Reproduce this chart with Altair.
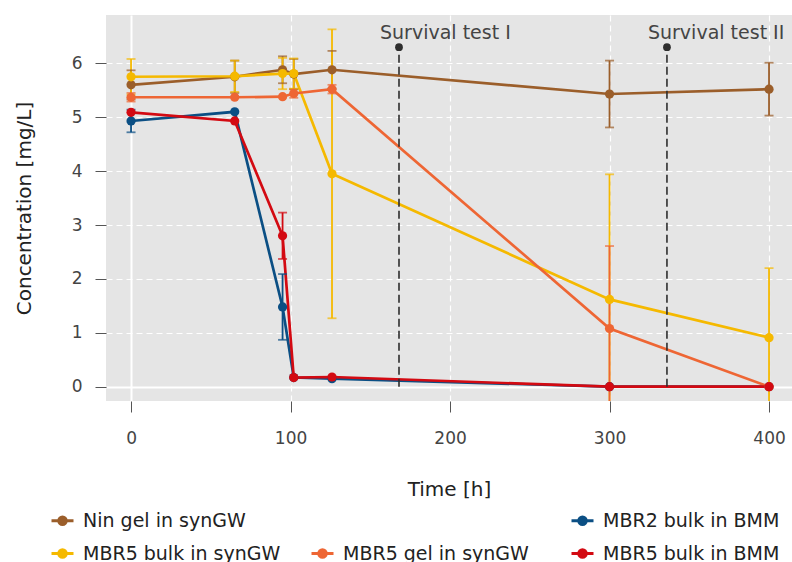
import altair as alt
import pandas as pd

# Sampling times [h]
hours = [0, 65, 95, 102, 126, 300, 400]

# Series in drawing order (later ones are drawn on top)
series_names = [
    "Nin gel in synGW",
    "MBR2 bulk in BMM",
    "MBR5 bulk in synGW",
    "MBR5 gel in synGW",
    "MBR5 bulk in BMM",
]

# Mean concentrations [mg/L]
nin_gel_syngw = [5.60, 5.75, 5.88, 5.80, 5.88, 5.43, 5.52]
mbr2_bulk_bmm = [4.93, 5.10, 1.48, 0.17, 0.15, 0.00, 0.00]
mbr5_bulk_syngw = [5.75, 5.76, 5.81, 5.81, 3.95, 1.62, 0.91]
mbr5_gel_syngw = [5.37, 5.37, 5.38, 5.44, 5.52, 1.08, 0.00]
mbr5_bulk_bmm = [5.09, 4.93, 2.80, 0.17, 0.18, 0.00, 0.00]

# Standard deviations [mg/L]
nin_gel_syngw_sd = [0.27, 0.30, 0.25, 0.28, 0.35, 0.62, 0.49]
mbr2_bulk_bmm_sd = [0.21, 0.00, 0.61, 0.00, 0.00, 0.00, 0.00]
mbr5_bulk_syngw_sd = [0.33, 0.29, 0.29, 0.28, 2.68, 2.32, 1.29]
mbr5_gel_syngw_sd = [0.08, 0.00, 0.00, 0.08, 0.08, 1.53, 0.00]
mbr5_bulk_bmm_sd = [0.00, 0.00, 0.43, 0.00, 0.00, 0.00, 0.00]

means = [nin_gel_syngw, mbr2_bulk_bmm, mbr5_bulk_syngw, mbr5_gel_syngw, mbr5_bulk_bmm]
sds = [nin_gel_syngw_sd, mbr2_bulk_bmm_sd, mbr5_bulk_syngw_sd, mbr5_gel_syngw_sd, mbr5_bulk_bmm_sd]

# Legend layout (row-major, three columns; the blank keeps the first row's middle slot empty)
legend_order = [
    "Nin gel in synGW", " ", "MBR2 bulk in BMM",
    "MBR5 bulk in synGW", "MBR5 gel in synGW", "MBR5 bulk in BMM",
]
legend_colors = [
    "#9B5E2A", "transparent", "#0B4F84",
    "#F5B900", "#EE6634", "#D30A12",
]

# Survival tests
survival_hours = [168, 336]
survival_labels = ["Survival test I", "Survival test II"]
survival_marker_level = 6.3

rows = []
for name, m, s in zip(series_names, means, sds):
    for h, v, e in zip(hours, m, s):
        rows.append({"series": name, "hour": h, "conc": v, "sd": e,
                     "lo": v - e, "hi": v + e})
df = pd.DataFrame(rows)

surv = pd.DataFrame({
    "hour": survival_hours,
    "label": survival_labels,
    "base": [0.0] * len(survival_hours),
    "top": [survival_marker_level] * len(survival_hours),
})

FONT = "DejaVu Sans"
X_DOMAIN = [-15.7, 414.4]
Y_DOMAIN = [-0.265, 6.896]

grid_dash = {"condition": {"test": "datum.value === 0", "value": []}, "value": [6, 4]}
grid_width = {"condition": {"test": "datum.value === 0", "value": 2}, "value": 1.2}

x_enc = alt.X(
    "hour:Q",
    scale=alt.Scale(domain=X_DOMAIN, nice=False, zero=False),
    axis=alt.Axis(
        values=[0, 100, 200, 300, 400], title="Time [h]",
        grid=True, gridColor="white", gridDash=grid_dash, gridWidth=grid_width,
        domain=False, ticks=True, tickSize=11, tickColor="#555555", tickWidth=1,
        labelFont=FONT, labelFontSize=17, labelColor="#444444", labelPadding=18,
        titleFont=FONT, titleFontSize=20, titleFontWeight="normal", titleColor="#222222",
        titleY=94, titleBaseline="alphabetic",
    ),
)
y_enc = alt.Y(
    "conc:Q",
    scale=alt.Scale(domain=Y_DOMAIN, nice=False, zero=False),
    axis=alt.Axis(
        values=[0, 1, 2, 3, 4, 5, 6], title="Concentration [mg/L]",
        grid=True, gridColor="white", gridDash=grid_dash, gridWidth=grid_width,
        domain=False, ticks=True, tickSize=11, tickColor="#555555", tickWidth=1,
        labelFont=FONT, labelFontSize=17, labelColor="#444444", labelPadding=13,
        titleFont=FONT, titleFontSize=20, titleFontWeight="normal", titleColor="#222222",
        titleX=-76, titleBaseline="alphabetic",
    ),
)

# Line-with-dot legend glyph: a stroke plus concentric rings that read as a solid dot
legend_symbol = (
    "M-1,0L1,0"
    "M0.34,0A0.34,0.34,0,1,1,-0.34,0A0.34,0.34,0,1,1,0.34,0"
    "M0.2,0A0.2,0.2,0,1,1,-0.2,0A0.2,0.2,0,1,1,0.2,0"
    "M0.07,0A0.07,0.07,0,1,1,-0.07,0A0.07,0.07,0,1,1,0.07,0"
)

color_scale = alt.Scale(domain=legend_order, range=legend_colors)
legend_def = alt.Legend(
    title=None, orient="none", legendX=-56, legendY=493,
    direction="horizontal", columns=3, gridAlign="all",
    columnPadding=24, rowPadding=10, padding=0,
    symbolType=legend_symbol, symbolSize=484, symbolStrokeWidth=3,
    labelFont=FONT, labelFontSize=19, labelColor="#222222",
    labelOffset=8, labelLimit=400,
)
no_legend = alt.Color("series:N", scale=color_scale, legend=None)

base = alt.Chart(df)

err = base.transform_filter("datum.sd > 0")
err_rules = err.mark_rule(strokeWidth=1.8, clip=True).encode(
    x=x_enc, y=alt.Y("lo:Q", scale=alt.Scale(domain=Y_DOMAIN, nice=False, zero=False)),
    y2="hi:Q", color=no_legend,
)
err_hi = err.mark_tick(orient="horizontal", size=9, thickness=1.8, clip=True).encode(
    x="hour:Q", y="hi:Q", color=no_legend,
)
err_lo = err.mark_tick(orient="horizontal", size=9, thickness=1.8, clip=True).encode(
    x="hour:Q", y="lo:Q", color=no_legend,
)

lines = base.mark_line(strokeWidth=2.7).encode(
    x=x_enc, y=y_enc,
    color=alt.Color("series:N", scale=color_scale, legend=legend_def),
    detail="series:N",
)
points = base.mark_point(filled=True, size=85, opacity=1).encode(
    x="hour:Q", y="conc:Q", color=no_legend,
)

s_base = alt.Chart(surv)
s_rules = s_base.mark_rule(strokeDash=[8, 4], strokeWidth=1.6, color="#2e2e2e").encode(
    x="hour:Q", y="base:Q", y2="top:Q",
)
s_dots = s_base.mark_point(filled=True, size=60, opacity=1, color="#2e2e2e").encode(
    x="hour:Q", y="top:Q",
)
s_text = s_base.mark_text(
    align="left", baseline="alphabetic", dx=-19, dy=-8,
    font=FONT, fontSize=19, color="#444444",
).encode(x="hour:Q", y="top:Q", text="label:N")

chart = (
    alt.layer(lines, err_rules, err_hi, err_lo, points, s_rules, s_dots, s_text)
    .properties(
        width=686, height=386,
        autosize=alt.AutoSizeParams(type="none"),
        padding={"left": 106, "top": 15, "right": 0, "bottom": 161},
        background="white",
    )
    .configure_view(fill="#E5E5E5", stroke=None)
)

chart.save("out.html", embed_options={"renderer": "svg", "actions": False})
